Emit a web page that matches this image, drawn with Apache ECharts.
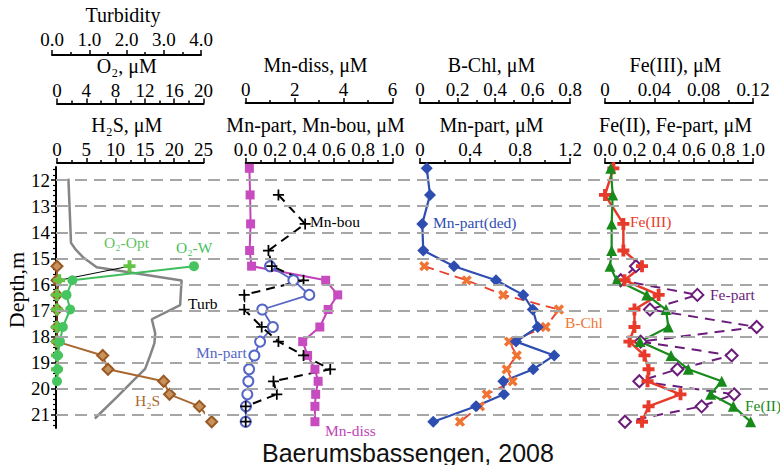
<!DOCTYPE html>
<html>
<head>
<meta charset="utf-8">
<script src="https://cdn.jsdelivr.net/npm/echarts@6/dist/echarts.min.js"></script>
<style>html,body{margin:0;padding:0;background:#fff}#c{width:780px;height:465px}</style>
</head>
<body>
<div id="c"></div>
<script>
// ---- sampling depths (m) ----
const depths = [11.55, 12.57, 13.68, 14.7, 15.3, 15.84, 16.4, 16.96, 17.63, 18.19, 18.72, 19.25, 19.71, 20.21, 20.67, 21.26];
// ---- panel 1 ----
const h2s   = [null, null, null, null, 0, 0, 0, 0, 0, 0, 7.8, 8.7, 18.2, 19.2, 24.3, 26.4];
const o2W   = [null, null, null, null, 18.7, 2.1, 1.3, 1.8, 0.8, 0.4, 0.1, 0.1, 0.0, null, null, null];
const o2Opt = [null, null, null, null, 9.9, 0.3, 0, 0, 0, 0, 0, 0, null, null, null, null];
const turbDepth = [11.8, 12.5, 13.2, 14.3, 14.53, 14.87, 15.25, 15.76, 16.2, 16.72, 17.27, 17.81, 18.2, 18.7, 19.2, 19.66, 20.3, 21.13];
const turbVal   = [0.44, 0.46, 0.48, 0.51, 0.62, 0.84, 1.2, 3.48, 3.46, 3.44, 2.68, 2.77, 2.75, 2.63, 2.5, 2.18, 1.74, 1.15];
// ---- panel 2 ----
const mnDiss = [0.15, 0.18, 0.2, 0.16, 0.24, 3.27, 3.76, 3.37, 3.03, 2.33, 2.53, 2.83, 2.96, 2.86, 2.83, 2.83];
const mnPart = [null, null, null, null, 0.166, 0.325, 0.433, 0.113, 0.185, 0.098, 0.059, 0.023, 0.018, 0.011, 0.002, 0.0];
const mnBou  = [null, 0.223, 0.405, 0.155, 0.178, 0.394, -0.01, -0.01, 0.109, 0.223, 0.394, 0.576, 0.189, 0.212, 0, 0];
// ---- panel 3 ----
const mnPartDed = [0.054, 0.08, 0.018, 0.026, 0.272, 0.608, 0.826, 0.902, 0.942, 0.768, 1.074, 0.906, 0.666, 0.672, 0.448, 0.106];
const bChl      = [null, null, null, null, 0.023, 0.249, 0.444, 0.741, 0.67, 0.475, 0.516, 0.462, 0.494, 0.356, 0.32, 0.213];
// ---- panel 4 ----
const fe3    = [0.0068, 0.0, 0.0149, 0.0149, 0.030, 0.0158, 0.0435, 0.0239, 0.0239, 0.0198, 0.032, 0.0353, 0.0345, 0.0612, 0.0353, 0.030];
const fe2    = [0.039, 0.052, 0.045, 0.045, 0.034, 0.079, 0.282, 0.412, 0.428, 0.236, 0.446, 0.563, 0.789, 0.714, 0.867, 0.984];
const fePart = [null, null, null, null, 0.209, 0.106, 0.624, 0.304, 1.025, 0.241, 0.856, 0.489, 0.232, 0.872, 0.653, 0.135];
// ---- depth axis ticks ----
const depthTicks = [12, 13, 14, 15, 16, 17, 18, 19, 20, 21];

const SERIF = 'Liberation Serif';
const pts = (vals) => vals.map((v, i) => v == null ? null : [v, depths[i]]).filter(Boolean);
const minorDepth = [];
for (let d = 11.6; d < 21.45; d += 0.2) { const r = Math.round(d * 10) / 10; if (Math.abs(r - Math.round(r)) > 0.01) minorDepth.push(r); }

const plusThick = 'path://M3.4,0H6.6V3.4H10V6.6H6.6V10H3.4V6.6H0V3.4H3.4Z';
const plusThin = 'path://M4.2,0H5.8V4.2H10V5.8H5.8V10H4.2V5.8H0V4.2H4.2Z';

function topAxis(grid, offset, min, max, interval, name, nameGap, fmt, margin) {
  return {
    gridIndex: grid, type: 'value', position: 'top', offset: offset,
    min: min, max: max, interval: interval,
    name: name, nameLocation: 'middle', nameGap: nameGap,
    nameTextStyle: { fontFamily: SERIF, fontSize: 20, color: '#000', padding: [0, 7, 0, 0] },
    axisLine: { show: true, onZero: false, lineStyle: { color: '#000', width: 2 } },
    axisTick: { show: true, length: 5, lineStyle: { color: '#000', width: 1.5 } },
    minorTick: { show: true, splitNumber: 2, length: 3, lineStyle: { color: '#000', width: 1.5 } },
    axisLabel: { margin: margin == null ? 4 : margin, fontFamily: SERIF, fontSize: 19, color: '#000', formatter: fmt, showMinLabel: true, showMaxLabel: true, hideOverlap: false },
    splitLine: { show: false }
  };
}
const f1 = (v) => v.toFixed(1);
const fDef = (v) => String(+v.toFixed(3));

const hiddenY = (g) => ({ gridIndex: g, type: 'value', min: 11.5, max: 21.5, inverse: true, show: false });

const option = {
  animation: false,
  backgroundColor: '#ffffff',
  title: {
    text: 'Baerumsbassengen, 2008', left: 262, top: 440, padding: 0,
    textStyle: { fontFamily: 'Liberation Sans', fontSize: 25, fontWeight: 'normal', color: '#111' }
  },
  grid: [
    { left: 56, top: 167, width: 712, height: 261 },
    { left: 57, top: 167, width: 146.5, height: 261 },
    { left: 52, top: 167, width: 149, height: 261 },
    { left: 245.7, top: 167, width: 146.8, height: 261 },
    { left: 420, top: 167, width: 150, height: 261 },
    { left: 605, top: 167, width: 148, height: 261 }
  ],
  xAxis: [
    { gridIndex: 0, type: 'value', min: 0, max: 1, show: false },
    topAxis(1, 4, 0, 25, 5, 'H₂S, μM', 26, fDef),
    topAxis(1, 63.5, 0, 20, 4, 'O₂, μM', 24, fDef),
    topAxis(2, 116, 0, 4, 1, 'Turbidity', 22, f1, 6),
    topAxis(3, 4, 0, 1, 0.2, 'Mn-part, Mn-bou, μM', 27, f1),
    topAxis(3, 64, 0, 6, 2, 'Mn-diss, μM', 23, fDef),
    topAxis(4, 4, 0, 1.2, 0.4, 'Mn-part, μM', 27, fDef),
    topAxis(4, 64, 0, 0.8, 0.2, 'B-Chl, μM', 23, fDef),
    topAxis(5, 4, 0, 1, 0.2, 'Fe(II), Fe-part, μM', 27, f1),
    topAxis(5, 64, 0, 0.12, 0.04, 'Fe(III), μM', 23, fDef)
  ],
  yAxis: [
    {
      gridIndex: 0, type: 'value', position: 'left', min: 11.5, max: 21.5, inverse: true,
      axisLine: { show: true, onZero: false, lineStyle: { color: '#000', width: 2 } },
      axisTick: { show: true, length: 5, customValues: depthTicks, lineStyle: { color: '#000', width: 1.5 } },
      axisLabel: { show: true, customValues: depthTicks, margin: 6, fontFamily: SERIF, fontSize: 19, color: '#000' },
      splitLine: { show: false }
    },
    {
      gridIndex: 0, type: 'value', position: 'left', min: 11.5, max: 21.5, inverse: true,
      axisLine: { show: false },
      axisTick: { show: true, length: 3, customValues: minorDepth, lineStyle: { color: '#000', width: 1.2 } },
      axisLabel: { show: false }, splitLine: { show: false }
    },
    hiddenY(1), hiddenY(2), hiddenY(3), hiddenY(4), hiddenY(5)
  ],
  series: [
    {
      type: 'line', xAxisIndex: 0, yAxisIndex: 0, data: [], silent: true,
      markLine: {
        silent: true, symbol: ['none', 'none'], label: { show: false },
        lineStyle: { type: [12, 7], color: '#a6a6a6', width: 2 },
        data: depthTicks.map(v => ({ yAxis: v }))
      }
    },
    // Turbidity
    { name: 'Turb', type: 'line', xAxisIndex: 3, yAxisIndex: 3, clip: false, showSymbol: false,
      lineStyle: { color: '#858585', width: 2.5 }, data: turbVal.map((v, i) => [v, turbDepth[i]]) },
    // H2S
    { name: 'H2S', type: 'line', xAxisIndex: 1, yAxisIndex: 2, clip: false, symbol: 'diamond', symbolSize: 11,
      lineStyle: { color: '#a8682f', width: 2 }, itemStyle: { color: '#c8925c', borderColor: '#9a5a25', borderWidth: 2 },
      data: pts(h2s) },
    // O2-Opt
    { name: 'O2-Opt', type: 'line', xAxisIndex: 2, yAxisIndex: 2, clip: false, symbol: plusThick, symbolSize: 12,
      lineStyle: { color: '#000', width: 1 }, itemStyle: { color: '#62c442' }, data: pts(o2Opt) },
    // O2-W
    { name: 'O2-W', type: 'line', xAxisIndex: 2, yAxisIndex: 2, clip: false, symbol: 'circle', symbolSize: 10,
      lineStyle: { color: '#3fbe5c', width: 2 }, itemStyle: { color: '#45c460' }, data: pts(o2W) },
    // Mn-diss
    { name: 'Mn-diss', type: 'line', xAxisIndex: 5, yAxisIndex: 4, clip: false, symbol: 'rect', symbolSize: 9,
      lineStyle: { color: '#c043b8', width: 2 }, itemStyle: { color: '#c64cbf' }, data: pts(mnDiss) },
    // Mn-part
    { name: 'Mn-part', type: 'line', xAxisIndex: 4, yAxisIndex: 4, clip: false, symbol: 'emptyCircle', symbolSize: 10,
      lineStyle: { color: '#5566c6', width: 1.8 }, itemStyle: { color: '#5566c6', borderWidth: 1.5 }, data: pts(mnPart) },
    // Mn-bou
    { name: 'Mn-bou', type: 'line', xAxisIndex: 4, yAxisIndex: 4, clip: false, symbol: plusThin, symbolSize: 11,
      lineStyle: { color: '#000', width: 2, type: [9, 6] }, itemStyle: { color: '#000' }, data: pts(mnBou) },
    // B-Chl
    { name: 'B-Chl', type: 'line', xAxisIndex: 7, yAxisIndex: 5, clip: false, symbol: plusThick, symbolRotate: 45, symbolSize: 11,
      lineStyle: { color: '#e8402c', width: 1.8, type: [10, 6] }, itemStyle: { color: '#f07535' }, data: pts(bChl) },
    // Mn-part(ded)
    { name: 'Mn-part(ded)', type: 'line', xAxisIndex: 6, yAxisIndex: 5, clip: false, symbol: 'diamond', symbolSize: 12,
      lineStyle: { color: '#2d4db0', width: 2.2 }, itemStyle: { color: '#2d4db0' }, data: pts(mnPartDed) },
    // Fe-part
    { name: 'Fe-part', type: 'line', xAxisIndex: 8, yAxisIndex: 6, clip: false, symbol: 'emptyDiamond', symbolSize: 12,
      lineStyle: { color: '#6b1c7a', width: 2, type: [10, 7] }, itemStyle: { color: '#6b1c7a', borderWidth: 1.6 }, data: pts(fePart) },
    // Fe(III)
    { name: 'Fe(III)', type: 'line', xAxisIndex: 9, yAxisIndex: 6, clip: false, symbol: plusThick, symbolSize: 12,
      lineStyle: { color: '#e83a2a', width: 2.5 }, itemStyle: { color: '#e83a2a' }, data: pts(fe3) },
    // Fe(II)
    { name: 'Fe(II)', type: 'line', xAxisIndex: 8, yAxisIndex: 6, clip: false, symbol: 'triangle', symbolSize: 11,
      lineStyle: { color: '#188a1c', width: 2.2 }, itemStyle: { color: '#188a1c' }, data: pts(fe2) }
  ],
  graphic: [
    {
      type: 'text', x: 16, y: 290, rotation: Math.PI / 2, silent: true,
      style: { text: 'Depth,m', fill: '#000', font: '22px "Liberation Serif"', align: 'center', verticalAlign: 'middle' }
    }
  ].concat([
    ['O₂-Opt', 104, 242, '#5fc45f'],
    ['O₂-W', 176, 247, '#46c060'],
    ['Turb', 188, 303, '#000'],
    ['H₂S', 135, 400, '#a8682f'],
    ['Mn-bou', 310, 221, '#000'],
    ['Mn-part', 196, 352, '#5566c6'],
    ['Mn-diss', 325, 430, '#c043b8'],
    ['Mn-part(ded)', 433, 222, '#2d4db0'],
    ['B-Chl', 565, 322, '#f07535'],
    ['Fe(III)', 630, 221, '#e83a2a'],
    ['Fe-part', 710, 294, '#6b1c7a'],
    ['Fe(II)', 745, 405, '#188a1c']
  ].map(t => ({
    type: 'text', x: t[1], y: t[2], silent: true,
    style: { text: t[0], fill: t[3], font: '15.5px "Liberation Serif"', align: 'left', verticalAlign: 'middle' }
  })))
};

const chart = echarts.init(document.getElementById('c'), null, { renderer: 'svg', width: 780, height: 465 });
chart.setOption(option);
</script>
</body>
</html>
